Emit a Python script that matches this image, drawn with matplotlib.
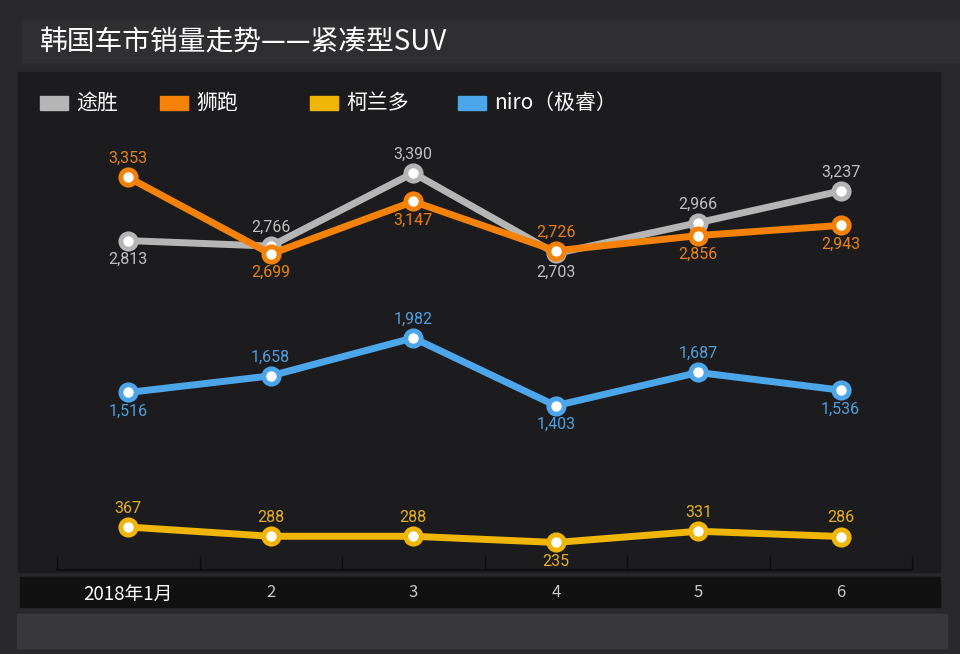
import matplotlib
matplotlib.use("Agg")
import matplotlib.pyplot as plt
from matplotlib.patches import Rectangle

plt.rcParams['font.family'] = ['Noto Sans CJK SC', 'DejaVu Sans']

months = ["2018年1月", "2", "3", "4", "5", "6"]
tucson = [2813, 2766, 3390, 2703, 2966, 3237]
sportage = [3353, 2699, 3147, 2726, 2856, 2943]
korando = [367, 288, 288, 235, 331, 286]
niro = [1516, 1658, 1982, 1403, 1687, 1536]

names = ["途胜", "狮跑", "柯兰多", "niro（极睿）"]
# label side per point: 1 above, -1 below
tucson_pos = [-1, 1, 1, -1, 1, 1]
sportage_pos = [1, -1, -1, 1, -1, -1]
korando_pos = [1, 1, 1, -1, 1, 1]
niro_pos = [-1, 1, 1, -1, 1, -1]

W, H = 960, 654
fig = plt.figure(figsize=(9.6, 6.54), dpi=100)
fig.patch.set_facecolor("#29292b")

def band(x, y, w, h, c, z=-5):
    # pixel box (top-left origin) -> figure coords
    fig.patches.append(Rectangle((x / W, 1 - (y + h) / H), w / W, h / H,
                                 transform=fig.transFigure, color=c, zorder=z))

band(22, 20, 938, 42, "#2f2f31")
band(18, 72, 922, 500, "#1c1c1e")
band(20, 577, 920, 30, "#111112")
band(17, 614, 930, 34, "#39393b")

fig.text(40 / W, 1 - 42 / H, "韩国车市销量走势——紧凑型SUV", color="white",
         fontsize=20, va="center", ha="left")

ax = fig.add_axes([57 / W, 84 / H, 855 / W, 450 / H])
ax.set_facecolor("none")
ax.set_xlim(-0.5, 5.5)
ax.set_ylim(0, 3843)

series = [
    (tucson, tucson_pos, "#b5b5b5", "#c0c0c0"),
    (sportage, sportage_pos, "#f58206", "#e8820e"),
    (niro, niro_pos, "#4ea6ea", "#4f9edd"),
    (korando, korando_pos, "#f0b605", "#e6b01a"),
]
x = list(range(len(months)))
for vals, pos, c, lc in series:
    ax.plot(x, vals, color=c, lw=5, marker="o", ms=11, mfc="white",
            mec=c, mew=3.5, solid_capstyle="round", zorder=3)
    for xi, v, p in zip(x, vals, pos):
        ax.annotate(f"{v:,}", (xi, v), xytext=(0, 13.5 * p), textcoords="offset points",
                    ha="center", va="center", color=lc, fontsize=11.5,
                    family=["Roboto", "DejaVu Sans"], zorder=4)

for s in ["top", "left", "right"]:
    ax.spines[s].set_visible(False)
ax.spines["bottom"].set_color("#0c0c0c")
ax.spines["bottom"].set_linewidth(1.2)
ax.set_yticks([])
ax.set_xticks([i - 0.5 for i in range(7)])
ax.set_xticklabels([])
ax.tick_params(axis="x", which="major", direction="in", length=10, color="#0c0c0c", width=1)
ax.set_xticks(x, minor=True)
ax.set_xticklabels(months, minor=True)
ax.tick_params(axis="x", which="minor", length=0, pad=10, labelsize=12)
for i, t in enumerate(ax.get_xticklabels(minor=True)):
    t.set_color("white" if i == 0 else "#c8c8c8")
    if i == 0:
        t.set_fontsize(13.5)

# legend
leg_x = [40, 160, 310, 458]
leg_c = ["#b5b5b5", "#f58206", "#f0b605", "#4ea6ea"]
for lx, c, n in zip(leg_x, leg_c, names):
    fig.patches.append(Rectangle((lx / W, 1 - 110 / H), 28 / W, 14 / H,
                                 transform=fig.transFigure, color=c, zorder=2))
    fig.text((lx + 36) / W, 1 - 103 / H, n, color="white", fontsize=15,
             va="center", ha="left")

fig.savefig("out.png", dpi=100, facecolor=fig.get_facecolor())
